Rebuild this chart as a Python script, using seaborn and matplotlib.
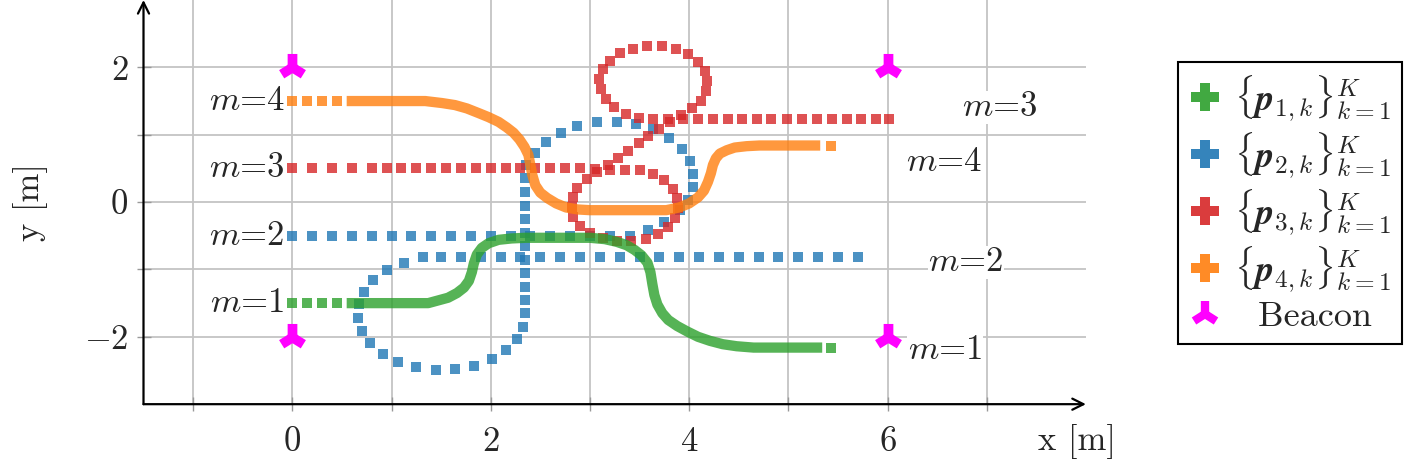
import numpy as np
import pandas as pd
import seaborn as sns
import matplotlib.pyplot as plt
from matplotlib.lines import Line2D

sns.set_style("white")
plt.rcParams['font.family'] = ['cmr10', 'DejaVu Serif']
plt.rcParams['mathtext.fontset'] = 'cm'
plt.rcParams['axes.unicode_minus'] = False

# colores de cada trayectoria
c_green, c_blue, c_red, c_orange = '#2ca02c', '#1f77b4', '#d62728', '#ff7f0e'
c_beacon = '#ff00ff'

# ---- trayectoria 1 (verde): tramo con puntos separados + tramo denso
green_sparse_x = [0.0, 0.15, 0.30, 0.45, 5.43]
green_sparse_y = [-1.5, -1.5, -1.5, -1.5, -2.16]
green_dense_x = [0.60, 1.37, 1.47, 1.57, 1.66, 1.73, 1.78, 1.81, 1.83, 1.86, 1.91, 1.98,
                 2.08, 2.21, 2.35, 3.00, 3.15, 3.27, 3.37, 3.45, 3.52, 3.58, 3.61, 3.63,
                 3.65, 3.68, 3.73, 3.79, 3.88, 3.98, 4.09, 4.21, 4.34, 4.48, 4.65, 5.29]
green_dense_y = [-1.50, -1.50, -1.46, -1.42, -1.35, -1.27, -1.17, -1.04, -0.91, -0.78, -0.68, -0.61,
                 -0.56, -0.54, -0.53, -0.53, -0.55, -0.59, -0.64, -0.71, -0.79, -0.90, -1.04, -1.22,
                 -1.38, -1.52, -1.65, -1.75, -1.84, -1.92, -2.00, -2.06, -2.11, -2.14, -2.16, -2.16]

# ---- trayectoria 2 (azul): solo puntos separados
blue_x = [0.0, 0.2, 0.4, 0.6, 0.8, 1.0, 1.2, 1.4, 1.6, 1.8, 2.0, 2.2, 2.4, 2.6, 2.8, 3.0, 3.2, 3.4,
          3.59, 3.75, 3.91, 3.99, 4.04, 4.04, 4.01, 3.93, 3.80, 3.64, 3.46, 3.27, 3.07, 2.87, 2.71,
          2.56, 2.45, 2.36,
          2.35, 2.35, 2.35, 2.35, 2.35, 2.35, 2.35, 2.35, 2.35, 2.35, 2.35,
          2.33, 2.27, 2.15, 2.01, 1.83, 1.64, 1.45, 1.25, 1.07, 0.91, 0.78, 0.70, 0.66, 0.67,
          0.72, 0.81, 0.95, 1.13, 1.32,
          1.5, 1.7, 1.9, 2.1, 2.3, 2.5, 2.7, 2.9, 3.1, 3.3, 3.5, 3.7, 3.9, 4.1, 4.3, 4.5, 4.7,
          4.9, 5.1, 5.3, 5.5, 5.7]
blue_y = [-0.5, -0.5, -0.5, -0.5, -0.5, -0.5, -0.5, -0.5, -0.5, -0.5, -0.5, -0.5, -0.5, -0.5,
          -0.5, -0.5, -0.5, -0.5,
          -0.42, -0.29, -0.12, 0.03, 0.22, 0.42, 0.61, 0.79, 0.95, 1.08, 1.16, 1.19, 1.19, 1.13,
          1.02, 0.89, 0.73, 0.55,
          0.36, 0.15, -0.06, -0.25, -0.46, -0.65, -0.86, -1.05, -1.26, -1.45, -1.65,
          -1.85, -2.03, -2.20, -2.33, -2.43, -2.48, -2.49, -2.45, -2.37, -2.26, -2.09, -1.91,
          -1.72, -1.51, -1.34, -1.16, -1.01, -0.90, -0.82,
          -0.81, -0.81, -0.81, -0.81, -0.81, -0.81, -0.81, -0.81, -0.81, -0.81, -0.81, -0.81,
          -0.81, -0.81, -0.81, -0.81, -0.81, -0.81, -0.81, -0.81, -0.81, -0.81]

# ---- trayectoria 3 (roja): solo puntos separados, dos lazos
red_x = [0.0, 0.2, 0.4, 0.6, 0.8, 0.95, 1.1, 1.25, 1.4, 1.55, 1.7, 1.85, 2.0, 2.15, 2.3, 2.45,
         2.6, 2.75, 2.9, 3.05, 3.2, 3.35, 3.5,
         3.64, 3.75, 3.84, 3.88, 3.89, 3.86, 3.79, 3.69, 3.57, 3.41, 3.27, 3.13, 3.00, 2.90,
         2.83, 2.82, 2.83, 2.87, 2.97, 3.07, 3.18, 3.28, 3.38, 3.49, 3.59, 3.70, 3.81, 3.92,
         4.03, 4.12,
         4.17, 4.18, 4.16, 4.09, 3.99, 3.87, 3.73, 3.58, 3.43, 3.30, 3.20, 3.13, 3.09, 3.11,
         3.16, 3.24, 3.36, 3.49,
         3.64, 3.79, 3.94, 4.09, 4.24, 4.39, 4.53, 4.68, 4.83, 4.99, 5.14, 5.29, 5.44, 5.59,
         5.73, 5.88, 6.02]
red_y = [0.5, 0.5, 0.5, 0.5, 0.5, 0.5, 0.5, 0.5, 0.5, 0.5, 0.5, 0.5, 0.5, 0.5, 0.5, 0.5,
         0.5, 0.5, 0.5, 0.49, 0.48, 0.47, 0.47,
         0.42, 0.33, 0.19, 0.06, -0.09, -0.24, -0.37, -0.47, -0.55, -0.58, -0.58, -0.53, -0.46,
         -0.36, -0.22, -0.07, 0.07, 0.21, 0.34, 0.45, 0.55, 0.65, 0.76, 0.88, 0.98, 1.08,
         1.19, 1.29, 1.39, 1.50,
         1.65, 1.80, 1.94, 2.08, 2.20, 2.27, 2.31, 2.31, 2.28, 2.21, 2.09, 1.97, 1.82, 1.68,
         1.53, 1.41, 1.31, 1.25,
         1.24, 1.24, 1.24, 1.24, 1.24, 1.24, 1.24, 1.24, 1.24, 1.24, 1.24, 1.24, 1.24, 1.24,
         1.24, 1.24, 1.24]

# ---- trayectoria 4 (naranja): tramo separado + tramo denso
orange_sparse_x = [0.0, 0.15, 0.30, 0.45, 5.43]
orange_sparse_y = [1.5, 1.5, 1.5, 1.5, 0.83]
orange_dense_x = [0.60, 1.34, 1.51, 1.64, 1.76, 1.88, 1.98, 2.08, 2.16, 2.23, 2.29, 2.34, 2.38,
                  2.40, 2.42, 2.45, 2.50, 2.57, 2.66, 2.76, 2.88, 3.00, 3.77, 3.90, 4.00, 4.09,
                  4.15, 4.19, 4.22, 4.24, 4.27, 4.31, 4.38, 4.46, 4.58, 4.71, 5.27]
orange_dense_y = [1.50, 1.50, 1.47, 1.44, 1.39, 1.32, 1.26, 1.19, 1.11, 1.03, 0.93, 0.82, 0.70,
                  0.55, 0.40, 0.25, 0.14, 0.06, -0.02, -0.08, -0.11, -0.12, -0.12, -0.08, -0.02,
                  0.07, 0.17, 0.30, 0.43, 0.55, 0.65, 0.72, 0.77, 0.81, 0.83, 0.84, 0.84]

# balizas
beacon_x = [0, 6, 0, 6]
beacon_y = [2, 2, -2, -2]

# etiquetas m=...
left_labels = ['$m$=4', '$m$=3', '$m$=2', '$m$=1']
left_label_y = [1.5, 0.5, -0.5, -1.5]
right_labels = ['$m$=3', '$m$=4', '$m$=2', '$m$=1']
right_label_x = [7.13, 6.57, 6.79, 6.58]
right_label_y = [1.41, 0.59, -0.89, -2.20]

legend_labels = [r'$\{\boldsymbol{p}_{1,k}\}_{k=1}^{K}$', r'$\{\boldsymbol{p}_{2,k}\}_{k=1}^{K}$',
                 r'$\{\boldsymbol{p}_{3,k}\}_{k=1}^{K}$', r'$\{\boldsymbol{p}_{4,k}\}_{k=1}^{K}$',
                 '  Beacon']

fig = plt.figure(figsize=(14.18, 4.65), dpi=100)
ax = fig.add_axes([0.1012, 0.1308, 0.6646, 0.8692])

alpha = 0.8
msize = 56
lw_dense = 7.4

def draw_dense(xs, ys, color):
    sns.lineplot(x=xs, y=ys, sort=False, estimator=None, color=color, alpha=alpha,
                 linewidth=lw_dense, solid_capstyle='projecting', ax=ax)

def draw_sparse(xs, ys, color):
    sns.scatterplot(x=xs, y=ys, marker='s', s=msize, color=color, alpha=alpha,
                    linewidth=0, ax=ax)

draw_dense(green_dense_x, green_dense_y, c_green)
draw_sparse(green_sparse_x, green_sparse_y, c_green)
draw_sparse(blue_x, blue_y, c_blue)
draw_sparse(red_x, red_y, c_red)
draw_dense(orange_dense_x, orange_dense_y, c_orange)
draw_sparse(orange_sparse_x, orange_sparse_y, c_orange)

sns.scatterplot(x=beacon_x, y=beacon_y, marker='2', s=380, color=c_beacon,
                linewidth=7, ax=ax, zorder=5)

fs = 25
box = dict(facecolor='white', edgecolor='none', pad=0.5)
for lab, yy in zip(left_labels, left_label_y):
    ax.text(-0.08, yy, lab, ha='right', va='center', fontsize=fs, bbox=box, zorder=6)
for lab, xx, yy in zip(right_labels, right_label_x, right_label_y):
    ax.text(xx, yy, lab, ha='center', va='center', fontsize=fs, bbox=box, zorder=6)

ax.set_xlim(-1.5, 8.0)
ax.set_ylim(-3.0, 3.0)
ax.set_xticks(range(-1, 8))
ax.set_xticklabels(['', '$0$', '', '$2$', '', '$4$', '', '$6$', ''], fontsize=fs)
ax.set_yticks(range(-2, 3))
ax.set_yticklabels(['$-2$', '', '$0$', '', '$2$'], fontsize=fs)
ax.tick_params(axis='x', bottom=True, direction='inout', length=10, width=1,
               color='#999999', pad=11)
ax.tick_params(axis='y', left=True, direction='inout', length=10, width=1,
               color='#999999', pad=6)
ax.grid(True, color='#c4c4c4', linewidth=1.3)
ax.set_axisbelow(True)
for s in ax.spines.values():
    s.set_visible(False)
ax.set_xlabel('')
ax.set_ylabel('')

# ejes con flecha
arrow = dict(arrowstyle='->', lw=1.6, color='black', shrinkA=0, shrinkB=0, mutation_scale=20)
ax.annotate('', xy=(1.0, 0.0), xytext=(0.0, 0.0), xycoords='axes fraction', arrowprops=arrow,
            annotation_clip=False)
ax.annotate('', xy=(0.0, 1.0), xytext=(0.0, 0.0), xycoords='axes fraction', arrowprops=arrow,
            annotation_clip=False)

ax.text(7.91, -3.55, 'x [m]', ha='center', va='center', fontsize=fs, clip_on=False)
ax.text(-2.64, 0.0, 'y [m]', ha='center', va='center', rotation=90, fontsize=fs, clip_on=False)

handles = [Line2D([], [], ls='none', marker='P', markersize=20, color=c, alpha=0.9,
                  markeredgewidth=0) for c in (c_green, c_blue, c_red, c_orange)]
handles.append(Line2D([], [], ls='none', marker='2', markersize=19, color=c_beacon,
                      markeredgewidth=6))
leg = fig.legend(handles, legend_labels, loc='upper left', bbox_to_anchor=(0.8307, 0.867),
                 fontsize=26, frameon=True, fancybox=False, edgecolor='black', framealpha=1,
                 borderpad=0.3, borderaxespad=0, labelspacing=0.2, handlelength=0.9,
                 handletextpad=0.35)
leg.get_frame().set_linewidth(1.5)

fig.savefig('out.png', dpi=100)
